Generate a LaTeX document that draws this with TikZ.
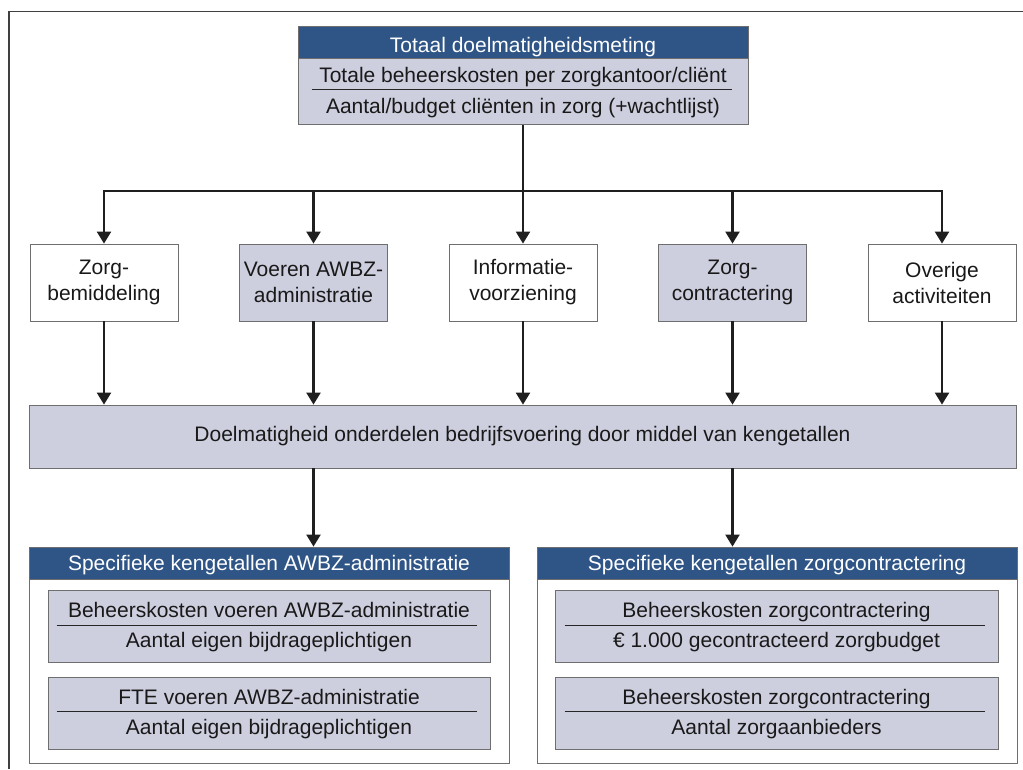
\documentclass[tikz,border=0pt]{standalone}
\usepackage{fontspec}
\setmainfont{Liberation Sans}
\usetikzlibrary{arrows.meta,positioning,calc}
\definecolor{kopblauw}{HTML}{2F5587}
\definecolor{lila}{HTML}{CDCFDF}
\definecolor{rand}{HTML}{6E6E6E}

\begin{document}
\begin{tikzpicture}[x=1pt, y=-1pt,
    every node/.style={font=\fontsize{21}{26}\selectfont, inner sep=0pt, text=black!90},
    kop/.style={draw=rand, fill=kopblauw, text=white, line width=0.8pt},
    blok/.style={draw=rand, line width=0.8pt, minimum width=148pt, minimum height=77pt, align=center},
    vak/.style={draw=rand, line width=0.8pt, fill=lila},
    breuk/.style={anchor=base},
    deel/.style={line width=1.2pt, black!85},
    lijn/.style={line width=2.2pt, black!88},
    pijl/.style={lijn, -{Triangle[width=14pt, length=12pt]}}]
    \useasboundingbox (0,0) rectangle (1023,769);
    \draw[black!75, line width=1.6pt] (9,769) -- (9,11.5) -- (1023,11.5);
    % bovenste blok
    \node[kop, minimum width=450pt, text height=26pt, text depth=6pt] (totaal) at (523,42) {Totaal doelmatigheidsmeting};
    \node[vak, minimum width=450pt, minimum height=66pt, below=0pt of totaal] (totaalvak) {};
    \node[breuk] (teller) at ($(totaalvak.north)+(0,24)$) {Totale beheerskosten per zorgkantoor/cliënt};
    \node[breuk] (noemer) at ($(totaalvak.north)+(0,55)$) {Aantal/budget cliënten in zorg (+wachtlijst)};
    \draw[deel] ($(totaalvak.north west)+(14,31)$) -- ($(totaalvak.north east)+(-16,31)$);
    % activiteiten
    \node[blok] (zorgbem) at (104,282.5) {Zorg-\\bemiddeling};
    \node[blok, fill=lila] (voeren) at (313.5,282.5) {Voeren AWBZ-\\administratie};
    \node[blok] (informatie) at (523,282.5) {Informatie-\\voorziening};
    \node[blok, fill=lila] (contract) at (732.5,282.5) {Zorg-\\contractering};
    \node[blok] (overig) at (942,282.5) {Overige\\activiteiten};
    \node[vak, minimum width=987pt, minimum height=63pt] (doelm) at (522.5,436.5)
        {Doelmatigheid onderdelen bedrijfsvoering door middel van kengetallen};
    \coordinate (verdeel) at (523,191);
    \draw[lijn] (totaalvak.south) -- (verdeel);
    \foreach \n in {zorgbem,voeren,informatie,contract,overig} {
        \draw[pijl] (verdeel) -| (\n.north);
        \draw[pijl] (\n.south) -- (\n.south |- doelm.north);
    }
    % specifieke kengetallen
    \node[draw=rand, line width=0.8pt, minimum width=480pt, minimum height=216pt] (awbz) at (269,655) {};
    \node[kop, minimum width=480pt, text height=23pt, text depth=9pt, anchor=north] (awbzkop) at (awbz.north)
        {Specifieke kengetallen AWBZ-administratie};
    \node[draw=rand, line width=0.8pt, minimum width=480pt, minimum height=216pt] (contr) at (777,655) {};
    \node[kop, minimum width=480pt, text height=23pt, text depth=9pt, anchor=north] (contrkop) at (contr.north)
        {Specifieke kengetallen zorgcontractering};
    \draw[pijl] (voeren.south |- doelm.south) -- (voeren.south |- awbzkop.north);
    \draw[pijl] (contract.south |- doelm.south) -- (contract.south |- contrkop.north);
    % breuken links
    \node[vak, minimum width=442pt, minimum height=72pt] (awbz1) at (269,626) {};
    \node[breuk] at ($(awbz1.north)+(0,28)$) {Beheerskosten voeren AWBZ-administratie};
    \node[breuk] at ($(awbz1.north)+(0,58)$) {Aantal eigen bijdrageplichtigen};
    \draw[deel] ($(awbz1.north west)+(9,36)$) -- ($(awbz1.north east)+(-13,36)$);
    \node[vak, minimum width=442pt, minimum height=72pt] (awbz2) at (269,713) {};
    \node[breuk] at ($(awbz2.north)+(0,28)$) {FTE voeren AWBZ-administratie};
    \node[breuk] at ($(awbz2.north)+(0,58)$) {Aantal eigen bijdrageplichtigen};
    \draw[deel] ($(awbz2.north west)+(9,35)$) -- ($(awbz2.north east)+(-13,35)$);
    % breuken rechts
    \node[vak, minimum width=443pt, minimum height=72pt] (contr1) at (776.5,626) {};
    \node[breuk] at ($(contr1.north)+(0,28)$) {Beheerskosten zorgcontractering};
    \node[breuk] at ($(contr1.north)+(0,58)$) {€ 1.000 gecontracteerd zorgbudget};
    \draw[deel] ($(contr1.north west)+(10,36)$) -- ($(contr1.north east)+(-13,36)$);
    \node[vak, minimum width=443pt, minimum height=72pt] (contr2) at (776.5,713) {};
    \node[breuk] at ($(contr2.north)+(0,28)$) {Beheerskosten zorgcontractering};
    \node[breuk] at ($(contr2.north)+(0,58)$) {Aantal zorgaanbieders};
    \draw[deel] ($(contr2.north west)+(10,35)$) -- ($(contr2.north east)+(-13,35)$);
\end{tikzpicture}
\end{document}
